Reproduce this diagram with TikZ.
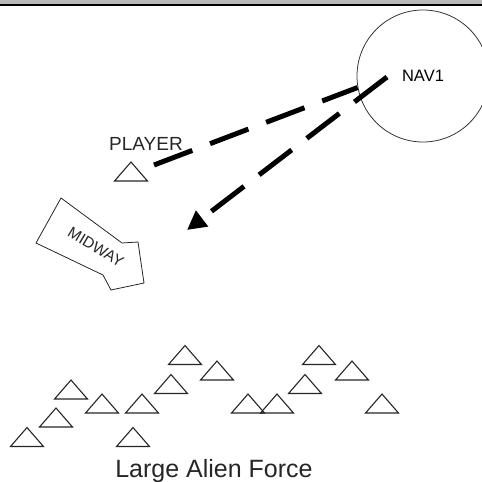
\documentclass[tikz,border=0pt]{standalone}
\usepackage{fontspec}
\setmainfont{Liberation Sans}
\usetikzlibrary{shapes.geometric,arrows.meta}

\begin{document}
\begin{tikzpicture}[x=1pt,y=-1pt,
  ship/.style={shape=isosceles triangle,shape border rotate=90,isosceles triangle stretches,
    draw=black!85,line width=1.1pt,minimum width=33pt,minimum height=19pt,inner sep=0pt,outer sep=0pt},
  route/.style={line width=5pt,dash pattern=on 41pt off 19pt},
  tag/.style={inner sep=0pt,text=black!85}]
\useasboundingbox (0,0) rectangle (482,482);
\clip (0,0) rectangle (482,482);

% header strip
\fill[gray!55] (0,0) rectangle (482,4);
\draw[line width=2pt] (0,5) -- (482,5);

% waypoint
\node[circle,draw=black!80,line width=0.8pt,minimum size=132pt,inner sep=0pt,font=\fontsize{16.5}{18}\selectfont] (nav1) at (423,76) {NAV1};

% player ship
\node[ship] (player) at (131,173.5) {};
\node[tag,font=\fontsize{19}{21}\selectfont] (plabel) at (146,144) {PLAYER};

% carrier
\draw[black!85,line width=0.8pt] (61,198) -- (36,243) -- (103,275) -- (111,290) -- (144,283) -- (138,242) -- (122,243) -- cycle;
\node[tag,rotate=-31,font=\fontsize{15.5}{17}\selectfont] (midway) at (96,247) {MIDWAY};

% enemy group
\foreach \x/\y [count=\i] in {185/357,217/372.5,319/357,352/372.5,71/391.5,171/386,305/386,
    102/405.5,142/405.5,248/405.5,277/405.5,382/405.5,56/419.5,27/439,133/439}
  \node[ship] (a\i) at (\x,\y) {};
\node[tag,font=\fontsize{25}{27}\selectfont,anchor=base] (force) at (214,477) {Large Alien Force};

% flight legs
\coordinate (leg) at (154,165);
\coordinate (turn) at (387,77);
\coordinate (goal) at (187,230);
\draw[route] (leg) -- (nav1.190);
\draw[route,-{Triangle[length=19pt,width=19pt]}] (turn) -- (goal);
\end{tikzpicture}
\end{document}
